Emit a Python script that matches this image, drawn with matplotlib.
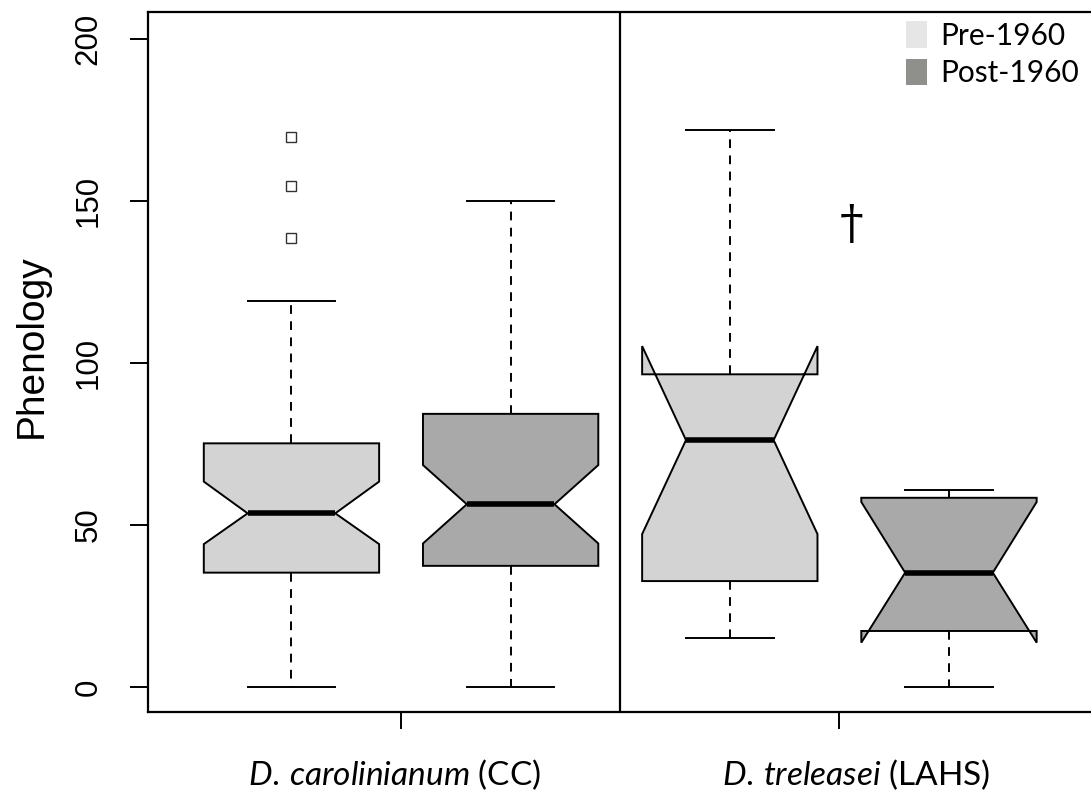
import numpy as np
import matplotlib.pyplot as plt
from matplotlib.patches import Patch

plt.rcParams['mathtext.fontset'] = 'custom'
plt.rcParams['mathtext.it'] = 'Lato:italic'
plt.rcParams['mathtext.rm'] = 'Lato'

# box statistics
groups = ["CC pre", "CC post", "LAHS pre", "LAHS post"]
q1 = [35.3, 37.4, 32.7, 17.3]
med = [53.6, 56.4, 76.2, 35.3]
q3 = [75.2, 84.3, 96.5, 58.4]
notch_lo = [44.1, 44.3, 47.2, 13.7]
notch_hi = [63.4, 68.5, 105.2, 57.1]
whis_lo = [0, 0, 15.1, 0]
whis_hi = [119.2, 150, 171.9, 60.7]
outliers = [[138.6, 154.6, 169.8], [], [], []]

site_labels = [r"$\mathit{D.\,carolinianum}$ (CC)", r"$\mathit{D.\,treleasei}$ (LAHS)"]
legend_labels = ["Pre-1960", "Post-1960"]

fill_box = ["#d3d3d3", "#a9a9a9", "#d3d3d3", "#a9a9a9"]
fill_leg = ["#e6e6e6", "#8f908b"]

fig = plt.figure(figsize=(10.91, 7.93), dpi=100)
ax = fig.add_axes([148/1091, 81/793, 1 - 148/1091, 700/793])

stats = []
for i in range(len(groups)):
    stats.append(dict(med=med[i], q1=q1[i], q3=q3[i], whislo=whis_lo[i], whishi=whis_hi[i],
                      cilo=notch_lo[i], cihi=notch_hi[i], fliers=outliers[i], label=groups[i]))

bp = ax.bxp(stats, positions=[1, 2, 3, 4], widths=0.8, capwidths=0.4, shownotches=True,
            patch_artist=True,
            boxprops=dict(edgecolor='black', linewidth=1.4),
            medianprops=dict(color='black', linewidth=4, solid_capstyle='butt'),
            whiskerprops=dict(color='black', linewidth=1.4, linestyle=(0, (4.5, 3.8))),
            capprops=dict(color='black', linewidth=1.4),
            flierprops=dict(marker='s', markersize=7.5, markerfacecolor='white',
                            markeredgecolor='#333333', markeredgewidth=1.0, linestyle='none'))
for patch, c in zip(bp['boxes'], fill_box):
    patch.set_facecolor(c)

ax.axvline(2.5, color='black', linewidth=1.6)

ax.set_xlim(0.3454, 4.648)
ax.set_ylim(-7.7, 208.3)

for s in ['left', 'bottom', 'top']:
    ax.spines[s].set_linewidth(1.6)
ax.spines['right'].set_visible(False)

ax.set_yticks([0, 50, 100, 150, 200])
ax.set_yticklabels(['0', '50', '100', '150', '200'], rotation=90, va='center',
                   fontsize=22.5, family='Liberation Sans')
ax.tick_params(axis='y', length=13, width=1.4, pad=19)
ax.set_xticks([1.5, 3.5])
ax.set_xticklabels(['', ''])
ax.tick_params(axis='x', length=12, width=1.4)

label_x = [1.472, 3.575]
for x, t in zip(label_x, site_labels):
    ax.text(x, -0.089, t, transform=ax.get_xaxis_transform(), ha='center', va='center',
            fontsize=24, family='Lato')

fig.text(14/1091, 1 - 346/793, 'Phenology', rotation=90, ha='left', va='center',
         fontsize=28, family='Liberation Sans')

# dagger marking the significant difference
ax.text(3.557, 142.5, '\u2020', ha='center', va='center', fontsize=34, family='DejaVu Serif')

handles = [Patch(facecolor=c, edgecolor='none') for c in fill_leg]
ax.legend(handles, legend_labels, loc='upper left', bbox_to_anchor=(906/1091, 1 - 21/793),
          bbox_transform=fig.transFigure, frameon=False, borderpad=0, borderaxespad=0,
          handlelength=0.7, handleheight=1.0, handletextpad=0.45, labelspacing=0.3,
          prop=dict(family='Lato', size=21.5))

fig.savefig('out.png', dpi=100)
